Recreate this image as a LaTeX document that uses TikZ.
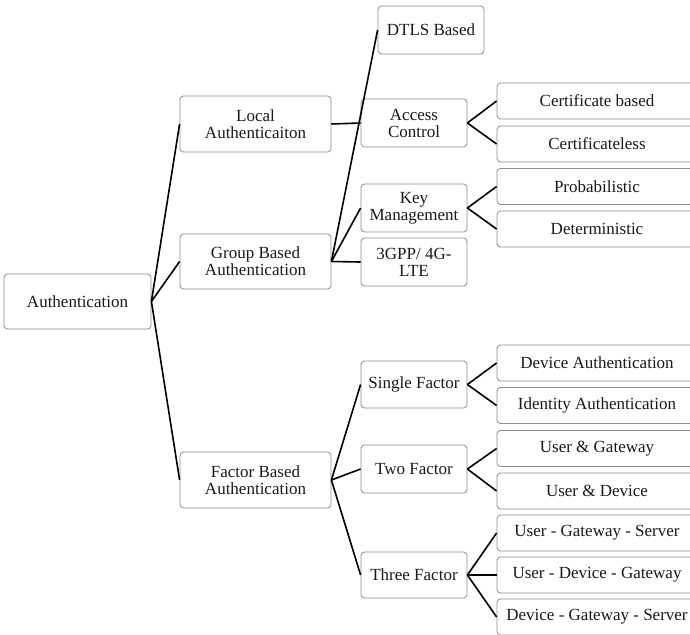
\documentclass[tikz,border=0pt]{standalone}
\usepackage{fontspec}
\setmainfont{Liberation Serif}
\begin{document}
\begin{tikzpicture}[x=1pt,y=-1pt,
  box/.style={draw=black!45, line width=0.8pt, rounded corners=3.5pt,
    inner sep=0pt, align=center, text=black!90,
    font=\fontsize{17}{17}\selectfont},
  midbox/.style={box, minimum width=151pt, minimum height=56pt},
  smallbox/.style={box, minimum width=106pt, minimum height=48pt},
  leafbox/.style={box, minimum width=200pt, minimum height=36pt},
  link/.style={draw=black, line width=1.6pt}]
\useasboundingbox (0,0) rectangle (690,634);
\clip (0,0) rectangle (690,634);

% root
\node[box, minimum width=147pt, minimum height=55pt] (auth) at (77.5,301.5) {Authentication};

% first level
\node[midbox] (local)  at (255.5,124)   {Local\\Authenticaiton};
\node[midbox, minimum height=55pt] (group) at (255.5,261.5) {Group Based\\Authentication};
\node[midbox] (factor) at (255.5,480)   {Factor Based\\Authentication};

% second level
\node[smallbox] (dtls)   at (431,30)  {DTLS Based};
\node[smallbox] (access) at (414,123) {Access\\Control};
\node[smallbox] (key)    at (414,208) {Key\\Management};
\node[smallbox] (lte)    at (414,262) {3GPP/ 4G-\\LTE};
\node[smallbox, minimum height=47pt] (single) at (414,384.5) {Single Factor};
\node[smallbox] (two)    at (414,469) {Two Factor};
\node[smallbox, minimum height=46pt] (three)  at (414,575) {Three Factor};

% leaves
\node[leafbox] (cert)     at (597,101)   {Certificate based};
\node[leafbox] (certless) at (597,144)   {Certificateless};
\node[leafbox] (prob)     at (597,186.5) {Probabilistic};
\node[leafbox] (det)      at (597,229)   {Deterministic};
\node[leafbox] (devauth)  at (597,363)   {Device Authentication};
\node[leafbox] (ident)    at (597,405.5) {Identity Authentication};
\node[leafbox] (ug)       at (597,448.5) {User \& Gateway};
\node[leafbox] (ud)       at (597,491)   {User \& Device};
\node[leafbox] (ugs)      at (597,533)   {User - Gateway - Server};
\node[leafbox] (udg)      at (597,575)   {User - Device - Gateway};
\node[leafbox] (dgs)      at (597,617)   {Device - Gateway - Server};

% connectors
\foreach \c in {local,group,factor} \draw[link] (auth.east) -- (\c.west);
\draw[link] (local.east) -- (access.west);
\foreach \c in {dtls,key,lte} \draw[link] (group.east) -- (\c.west);
\foreach \c in {single,two,three} \draw[link] (factor.east) -- (\c.west);
\foreach \c in {cert,certless} \draw[link] (access.east) -- (\c.west);
\foreach \c in {prob,det} \draw[link] (key.east) -- (\c.west);
\foreach \c in {devauth,ident} \draw[link] (single.east) -- (\c.west);
\foreach \c in {ug,ud} \draw[link] (two.east) -- (\c.west);
\foreach \c in {ugs,udg,dgs} \draw[link] (three.east) -- (\c.west);
\end{tikzpicture}
\end{document}
